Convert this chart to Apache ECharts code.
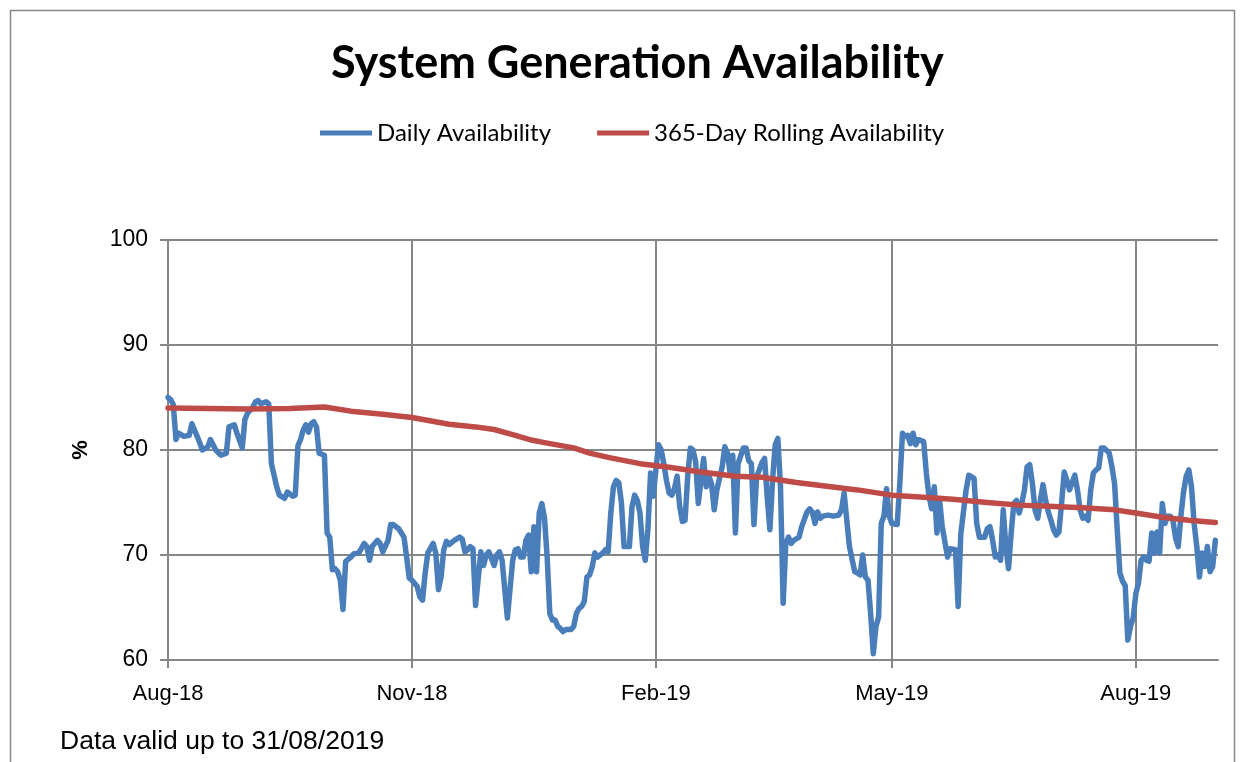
<!DOCTYPE html>
<html><head><meta charset="utf-8">
<script src="https://cdn.jsdelivr.net/npm/echarts@6/dist/echarts.min.js"></script>
<style>html,body{margin:0;padding:0;background:#fff}#c{width:1243px;height:762px}</style>
</head><body><div id="c"></div>
<script>
// Day offsets from 1 Aug 2018
const dailyDay = [0,1,2,3,4,6,8,9,11,13,15,16,18,20,22,23,25,26,28,29,30,32,33,34,35,37,38,39,41,42,44,45,47,48,49,50,51,52,53,54,55,56,57,59,60,61,62,63,64,65,66,67,69,70,72,74,75,76,77,79,80,81,83,84,85,87,89,90,91,92,94,95,96,97,98,100,101,102,103,104,105,106,108,110,111,112,113,114,115,116,118,119,120,121,123,124,125,126,128,130,131,132,133,134,135,136,137,138,139,140,141,142,143,144,145,146,147,148,149,150,152,153,154,155,156,157,158,159,160,161,162,164,165,166,167,168,169,170,171,172,174,175,176,177,178,179,180,181,182,183,184,185,186,187,188,189,190,191,192,193,194,195,196,197,198,199,200,201,202,203,204,205,206,207,208,209,210,211,212,213,214,215,217,218,219,220,221,222,223,224,225,226,227,228,229,230,231,232,233,234,235,236,238,239,241,242,243,244,245,246,247,249,251,253,254,255,256,257,259,260,261,262,263,264,265,266,267,268,269,270,271,272,273,275,276,277,278,279,280,281,282,283,285,286,287,288,289,290,291,292,294,295,297,298,299,300,301,302,304,305,306,308,309,310,311,312,313,314,315,316,317,318,319,320,321,322,323,324,325,326,327,328,329,330,331,332,333,334,335,336,337,338,339,340,342,343,344,345,346,347,348,349,350,351,352,353,355,356,357,358,359,360,361,362,363,364,365,366,367,368,369,370,371,372,373,374,375,376,377,378,379,380,381,382,383,384,385,386,387,388,389,390,391,392,393,394,395];
const dailyValue = [85.0,84.8,84.3,81.0,81.6,81.3,81.4,82.5,81.3,80.0,80.3,81.0,80.0,79.5,79.7,82.2,82.4,81.6,80.2,82.9,83.5,84.1,84.6,84.7,84.4,84.6,84.4,78.7,76.5,75.7,75.4,76.0,75.6,75.7,80.4,81.0,81.9,82.4,81.7,82.5,82.7,82.2,79.7,79.5,72.1,71.7,68.6,68.7,68.4,67.6,64.8,69.4,69.8,70.1,70.2,71.1,70.8,69.5,70.8,71.4,71.1,70.3,71.4,72.9,72.9,72.5,71.7,69.8,67.8,67.6,67.0,66.0,65.7,68.3,70.2,71.1,70.2,66.7,67.9,70.5,71.3,71.0,71.4,71.7,71.5,70.3,70.5,70.8,70.6,65.2,70.3,69.0,70.0,70.3,69.0,70.0,70.3,69.5,64.0,69.5,70.5,70.6,69.8,69.8,71.4,71.9,68.4,72.7,68.4,74.0,74.9,73.5,69.8,64.4,63.8,63.8,63.2,63.0,62.7,62.9,62.9,63.2,64.4,64.9,65.1,65.6,67.9,68.1,68.9,70.2,69.8,70.2,70.5,70.3,74.0,76.5,77.1,76.9,75.0,70.8,70.8,74.6,75.7,75.2,74.0,70.8,69.5,72.5,77.8,75.6,78.1,80.5,80.0,78.7,77.1,75.9,75.7,76.3,77.5,74.6,73.2,73.3,77.5,80.2,80.0,78.9,74.9,77.1,79.2,76.5,77.5,76.8,74.3,76.2,77.3,78.4,80.3,79.7,77.8,79.5,72.1,78.7,80.2,80.2,79.0,78.7,72.9,77.5,78.1,78.8,79.2,75.5,72.4,77.1,80.5,81.1,76.5,65.4,71.1,71.7,71.1,71.4,71.7,72.7,74.1,74.4,74.1,73.0,74.1,73.5,73.7,73.8,73.7,73.8,74.3,75.9,73.3,70.8,68.4,68.3,68.1,70.0,67.9,67.6,64.4,60.6,63.2,64.1,73.0,73.7,76.3,73.7,73.0,72.9,76.8,81.6,81.3,81.4,80.6,81.6,80.5,81.0,80.8,77.8,75.6,74.4,76.5,72.1,75.2,72.7,69.8,70.6,70.5,65.1,72.0,74.1,76.2,77.6,77.3,73.0,71.7,71.7,72.5,72.7,71.4,69.8,70.0,69.5,74.3,70.8,68.7,72.1,74.9,75.2,74.0,74.9,76.2,78.4,78.6,76.8,74.3,73.5,75.2,76.7,75.2,74.1,73.3,72.4,71.9,72.2,74.9,77.9,77.1,76.2,77.6,76.2,74.3,73.5,73.7,73.3,76.2,77.8,78.1,78.3,80.2,80.2,79.7,78.4,76.8,72.4,68.3,67.5,67.1,61.9,63.2,64.0,66.3,67.3,69.5,69.8,69.5,69.4,72.1,70.2,72.2,70.2,74.9,73.0,73.7,73.7,73.3,71.6,70.8,73.7,76.0,77.5,78.1,76.5,73.0,70.8,67.9,70.2,68.9,70.8,68.4,68.9,71.4];
const rollingDay = [0,15,30,46,59,69,81,92,106,116,123,131,137,142,153,159,166,178,189,201,214,224,237,250,260,273,285,296,309,321,332,345,357,365,375,385,395];
const rollingValue = [84.0,83.95,83.9,83.95,84.1,83.7,83.4,83.1,82.45,82.2,81.95,81.4,80.95,80.7,80.2,79.7,79.3,78.7,78.35,77.9,77.5,77.4,76.9,76.5,76.2,75.7,75.5,75.3,75.0,74.75,74.65,74.5,74.3,74.0,73.6,73.3,73.1];
const tickDates = ['2018-08-01','2018-11-01','2019-02-01','2019-05-01','2019-08-01'];
const tickLabels = ['Aug-18','Nov-18','Feb-19','May-19','Aug-19'];
const seriesNames = ['Daily Availability','365-Day Rolling Availability'];
const axisRange = ['2018-08-01','2019-09-01'];

function parseDate(s){ const p = s.split('-').map(Number); return new Date(p[0], p[1]-1, p[2]).getTime(); }
function dayToTime(d){ return new Date(2018, 7, 1 + d).getTime(); }
const tickTimes = tickDates.map(parseDate);

const chart = echarts.init(document.getElementById('c'), null, {renderer:'canvas'});
chart.setOption({
  animation:false,
  backgroundColor:'#fff',
  title:{text:'System Generation Availability', left:326, top:36,
    textStyle:{fontFamily:'Lato', fontWeight:'bold', fontSize:45, color:'#000'}},
  legend:{data:seriesNames, left:315, top:116, icon:'rect', itemWidth:52, itemHeight:5, itemGap:46,
    textStyle:{fontFamily:'Lato', fontSize:24, color:'#000'}},
  grid:{left:168, right:25, top:240, bottom:102, containLabel:false},
  xAxis:{type:'value', min:parseDate(axisRange[0]), max:parseDate(axisRange[1]),
    axisLine:{show:true, lineStyle:{color:'#868686', width:2}},
    axisTick:{show:true, length:8, customValues:tickTimes, lineStyle:{color:'#868686', width:2}},
    axisLabel:{customValues:tickTimes, margin:23, fontFamily:'Liberation Sans', fontSize:22, color:'#000',
      formatter:function(v){ let best=0; for(let i=0;i<tickTimes.length;i++){ if(Math.abs(tickTimes[i]-v)<Math.abs(tickTimes[best]-v)) best=i; } return tickLabels[best]; }},
    splitLine:{show:true, lineStyle:{color:'#868686', width:2}}},
  yAxis:{type:'value', min:60, max:100, interval:10, name:'%', nameLocation:'middle', nameGap:76, nameRotate:90,
    nameTextStyle:{fontFamily:'Liberation Sans', fontWeight:'bold', fontSize:22, color:'#000'},
    axisLine:{show:true, lineStyle:{color:'#868686', width:2}},
    axisTick:{show:true, length:8, lineStyle:{color:'#868686', width:2}},
    axisLabel:{margin:20, fontFamily:'Liberation Sans', fontSize:23, color:'#000'},
    splitLine:{show:true, lineStyle:{color:'#868686', width:2}}},
  series:[
    {name:seriesNames[0], type:'line', showSymbol:false, color:'#4A7EBB',
      lineStyle:{width:5.5, color:'#4A7EBB', cap:'round', join:'round'},
      data:dailyDay.map((d,i)=>[dayToTime(d), dailyValue[i]])},
    {name:seriesNames[1], type:'line', showSymbol:false, color:'#BE4B48',
      lineStyle:{width:5.5, color:'#BE4B48', cap:'round', join:'round'},
      data:rollingDay.map((d,i)=>[dayToTime(d), rollingValue[i]])}
  ],
  graphic:[
    {type:'rect', left:8, top:8, shape:{width:1224, height:800}, style:{fill:null, stroke:'#868686', lineWidth:1.5}, silent:true},
    {type:'text', left:60, top:728, style:{text:'Data valid up to 31/08/2019', fontFamily:'Liberation Sans', fontSize:26.5, fill:'#000'}}
  ]
});
</script></body></html>
